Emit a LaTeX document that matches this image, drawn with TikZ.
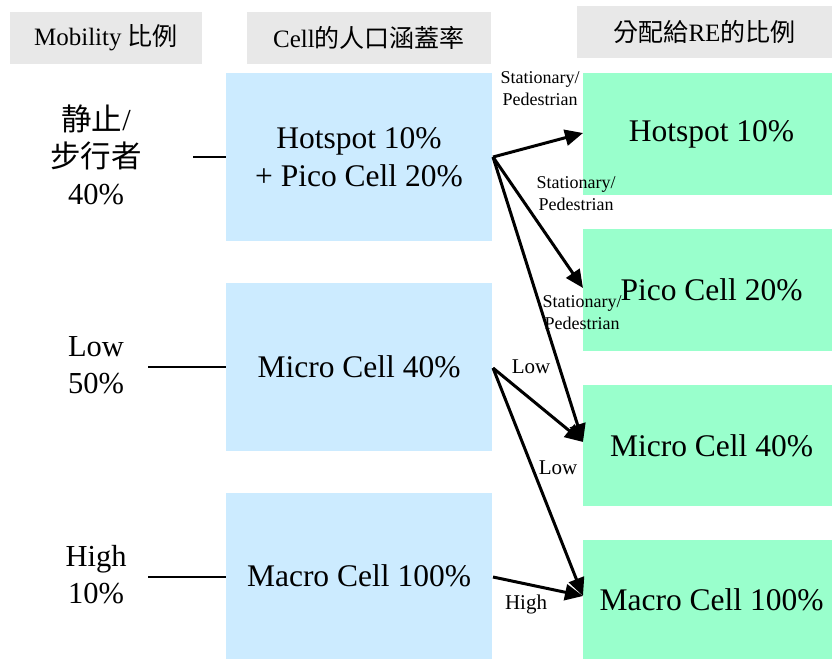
\documentclass[tikz,border=0pt]{standalone}
\usepackage{fontspec}
\setmainfont{Liberation Serif}
\newfontfamily\cjk{Noto Sans CJK TC}
\usetikzlibrary{arrows.meta}
\definecolor{hdrgray}{RGB}{232,232,232}
\definecolor{cellblue}{RGB}{204,235,255}
\definecolor{regreen}{RGB}{153,255,204}
\tikzset{
  hdr/.style={fill=hdrgray, draw=none, inner sep=0pt, font=\fontsize{25}{30}\selectfont},
  cellbox/.style={fill=cellblue, draw=none, minimum width=266pt, minimum height=168pt, inner sep=0pt, align=center, font=\fontsize{31.5}{38}\selectfont},
  rebox/.style={fill=regreen, draw=none, minimum width=249pt, minimum height=122pt, inner sep=0pt, align=center, font=\fontsize{31.5}{38}\selectfont},
  mob/.style={align=center, inner sep=0pt, font=\fontsize{30.5}{37}\selectfont},
  elab/.style={inner sep=0pt, align=center, font=\fontsize{18}{22}\selectfont},
  wlab/.style={inner sep=0pt, align=center, font=\fontsize{21}{24}\selectfont},
  tie/.style={line width=2pt},
  flow/.style={line width=3pt, -{Triangle[length=18pt,width=16pt]}},
}
\begin{document}
\begin{tikzpicture}[x=1pt,y=-1pt]
\useasboundingbox (0,0) rectangle (832,659);
% headers
\node[hdr, minimum width=192pt, minimum height=52pt] (h1) at (106,38) {Mobility {\cjk 比例}};
\node[hdr, minimum width=244pt, minimum height=52pt] (h2) at (369,38) {Cell{\cjk 的人口涵蓋率}};
\node[hdr, minimum width=255pt, minimum height=52pt] (h3) at (704.5,32) {{\cjk 分配給}RE{\cjk 的比例}};
% cell boxes
\node[cellbox] (b1) at (359,157) {Hotspot 10\%\\+ Pico Cell 20\%};
\node[cellbox] (b2) at (359,367) {Micro Cell 40\%};
\node[cellbox, minimum height=166pt] (b3) at (359,576) {Macro Cell 100\%};
% RE boxes
\node[rebox] (g1) at (707.5,134) {\hspace*{8pt}Hotspot 10\%};
\node[rebox] (g2) at (707.5,290) {\hspace*{8pt}Pico Cell 20\%};
\node[rebox, minimum height=121pt] (g3) at (707.5,445.5) {\hspace*{8pt}Micro Cell 40\%};
\node[rebox, minimum height=119pt] (g4) at (707.5,599.5) {\hspace*{8pt}Macro Cell 100\%};
% mobility labels
\node[mob] (m1) at (96,155) {{\cjk 静止}/\\{\cjk 步行者}\\40\%};
\node[mob] (m2) at (96,365) {Low\\50\%};
\node[mob] (m3) at (96,575) {High\\10\%};
\coordinate (t1) at (193,157);
\coordinate (t2) at (148,367);
\coordinate (t3) at (148,577);
\draw[tie] (t1) -- (b1.west |- t1);
\draw[tie] (t2) -- (b2.west |- t2);
\draw[tie] (t3) -- (b3.west |- t3);
% arrow endpoints
\coordinate (s1) at (493,157);
\coordinate (s2) at (493,368);
\coordinate (s3) at (493,577);
\coordinate (e1) at (583,133);
\coordinate (e2) at (583,288);
\coordinate (e3) at (583,442);
\coordinate (e4) at (583,596);
\draw[flow] (s1) -- (e1);
\draw[flow] (s1) -- (e2);
\draw[flow] (s1) -- (e3);
\draw[flow] (s2) -- (e3);
\draw[flow] (s2) -- (e4);
\draw[flow] (s3) -- (e4);
% edge labels
\node[elab] (l1) at (540,89) {Stationary/\\Pedestrian};
\node[elab] (l2) at (576,194) {Stationary/\\Pedestrian};
\node[elab] (l3) at (582,313) {Stationary/\\Pedestrian};
\node[wlab] (l4) at (531,367) {Low};
\node[wlab] (l5) at (558,468) {Low};
\node[wlab] (l6) at (526,604) {High};
\end{tikzpicture}
\end{document}
